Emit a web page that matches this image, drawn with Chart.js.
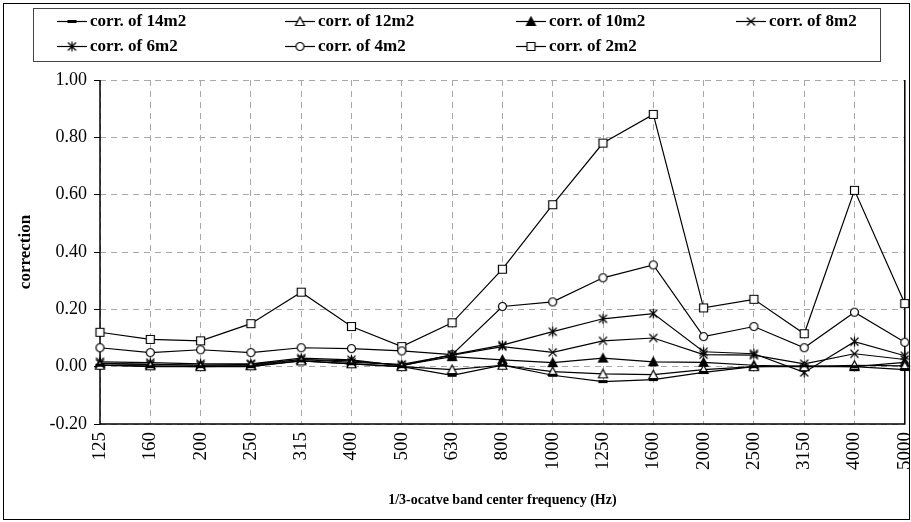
<!DOCTYPE html>
<html>
<head>
<meta charset="utf-8">
<script src="https://cdn.jsdelivr.net/npm/chart.js@4/dist/chart.umd.min.js"></script>
<style>
  html, body { margin: 0; padding: 0; background: #fff; }
  #wrap { width: 911px; height: 522px; }
</style>
</head>
<body>
<div id="wrap"><canvas id="grafico" width="911" height="522"></canvas></div>
<script>
const frequencias = ['125', '160', '200', '250', '315', '400', '500', '630', '800', '1000', '1250', '1600', '2000', '2500', '3150', '4000', '5000'];

const corr14 = [0.005, 0.0, 0.0, 0.0, 0.02, 0.01, 0.0, -0.03, 0.005, -0.03, -0.052, -0.045, -0.02, 0.0, 0.003, 0.0, -0.01];
const corr12 = [0.005, 0.003, 0.0, 0.003, 0.02, 0.01, 0.0, -0.01, 0.005, -0.017, -0.025, -0.028, -0.01, 0.0, 0.0, 0.005, 0.003];
const corr10 = [0.01, 0.008, 0.005, 0.005, 0.025, 0.02, 0.005, 0.035, 0.024, 0.014, 0.03, 0.017, 0.015, 0.005, 0.0, 0.0, 0.015];
const corr8 = [0.012, 0.008, 0.005, 0.008, 0.025, 0.015, 0.008, 0.04, 0.07, 0.05, 0.09, 0.1, 0.042, 0.04, 0.01, 0.045, 0.025];
const corr6 = [0.017, 0.014, 0.01, 0.01, 0.03, 0.024, 0.003, 0.042, 0.075, 0.122, 0.167, 0.185, 0.052, 0.045, -0.02, 0.087, 0.038];
const corr4 = [0.066, 0.049, 0.059, 0.049, 0.066, 0.063, 0.055, 0.042, 0.21, 0.226, 0.31, 0.355, 0.105, 0.14, 0.066, 0.19, 0.085];
const corr2 = [0.12, 0.095, 0.09, 0.15, 0.26, 0.14, 0.07, 0.153, 0.34, 0.565, 0.78, 0.88, 0.205, 0.235, 0.115, 0.615, 0.22];

const nomes = ['corr. of 14m2', 'corr. of 12m2', 'corr. of 10m2', 'corr. of 8m2', 'corr. of 6m2', 'corr. of 4m2', 'corr. of 2m2'];
const valores = [corr14, corr12, corr10, corr8, corr6, corr4, corr2];
const marcas = ['dash', 'triOpen', 'triFill', 'x', 'ast', 'circle', 'square'];

const fonte = "'Liberation Serif', 'Times New Roman', serif";

// desenha os marcadores num canvas pequeno, usado como pointStyle
function criarMarca(tipo) {
    const s = 13;
    const c = document.createElement('canvas');
    c.width = s;
    c.height = s;
    const ctx = c.getContext('2d');
    ctx.translate(s / 2, s / 2);
    ctx.strokeStyle = '#000';
    ctx.fillStyle = '#fff';
    ctx.lineWidth = 1.2;
    ctx.beginPath();
    if (tipo === 'dash') {
        ctx.fillStyle = '#000';
        ctx.fillRect(-4.5, -1.5, 9, 3);
    } else if (tipo === 'triOpen' || tipo === 'triFill') {
        ctx.moveTo(0, -4.5);
        ctx.lineTo(4.5, 4);
        ctx.lineTo(-4.5, 4);
        ctx.closePath();
        ctx.fillStyle = tipo === 'triFill' ? '#000' : '#fff';
        ctx.fill();
        ctx.stroke();
    } else if (tipo === 'x' || tipo === 'ast') {
        ctx.moveTo(-4, -4); ctx.lineTo(4, 4);
        ctx.moveTo(4, -4); ctx.lineTo(-4, 4);
        if (tipo === 'ast') { ctx.moveTo(0, -5); ctx.lineTo(0, 5); }
        ctx.stroke();
    } else if (tipo === 'circle') {
        ctx.arc(0, 0, 4, 0, Math.PI * 2);
        ctx.fill();
        ctx.stroke();
    } else if (tipo === 'square') {
        ctx.rect(-4, -4, 8, 8);
        ctx.fill();
        ctx.stroke();
    }
    return c;
}

const imagens = marcas.map(criarMarca);

const datasets = valores.map((v, i) => ({
    label: nomes[i],
    data: v,
    borderColor: '#000',
    borderWidth: 1.2,
    pointStyle: imagens[i],
    pointRadius: 5,
    fill: false,
    tension: 0,
}));

// bordas solidas da area do grafico (as linhas de grade ficam tracejadas)
const bordasPlugin = {
    id: 'bordas',
    beforeDatasetsDraw(chart) {
        const ctx = chart.ctx;
        const a = chart.chartArea;
        ctx.save();
        ctx.strokeStyle = '#000';
        ctx.lineWidth = 1.5;
        ctx.beginPath();
        ctx.moveTo(a.left, a.top);
        ctx.lineTo(a.left, a.bottom);
        ctx.lineTo(a.right, a.bottom);
        ctx.lineTo(a.right, a.top);
        ctx.stroke();
        ctx.restore();
    },
};

// legenda com colunas alinhadas, como no original
const legendaPlugin = {
    id: 'legendaCaixa',
    afterDraw(chart) {
        const ctx = chart.ctx;
        ctx.save();
        // moldura externa
        ctx.strokeStyle = '#000';
        ctx.lineWidth = 1;
        ctx.strokeRect(3.5, 3.5, 906, 516);
        // caixa da legenda
        ctx.strokeStyle = '#444';
        ctx.strokeRect(33.5, 8.5, 847, 53);
        const colunas = [57, 285, 516, 736];
        const linhas = [21, 46];
        ctx.font = 'bold 17px ' + fonte;
        ctx.textBaseline = 'middle';
        ctx.fillStyle = '#000';
        nomes.forEach((n, i) => {
            const x = colunas[i % 4];
            const y = linhas[Math.floor(i / 4)];
            ctx.strokeStyle = '#000';
            ctx.lineWidth = 1.2;
            ctx.beginPath();
            ctx.moveTo(x, y + 0.5);
            ctx.lineTo(x + 30, y + 0.5);
            ctx.stroke();
            const img = imagens[i];
            ctx.drawImage(img, x + 15 - img.width / 2, y + 0.5 - img.height / 2);
            ctx.fillText(n, x + 33, y + 1);
        });
        ctx.restore();
    },
};

new Chart(document.getElementById('grafico'), {
    type: 'line',
    data: { labels: frequencias, datasets },
    plugins: [bordasPlugin, legendaPlugin],
    options: {
        responsive: false,
        animation: false,
        events: [],
        layout: { padding: { left: 0, top: 80, right: 5, bottom: 0 } },
        plugins: { legend: { display: false }, tooltip: { enabled: false } },
        scales: {
            x: {
                offset: false,
                afterFit(axis) {
                    axis.height = 98;
                    axis.paddingLeft = 0;
                    axis.paddingRight = 0;
                },
                grid: {
                    color: '#a8a8a8',
                    drawTicks: false,
                },
                border: { display: false, dash: [6, 5] },
                ticks: {
                    autoSkip: false,
                    minRotation: 90,
                    maxRotation: 90,
                    padding: 8,
                    color: '#000',
                    font: { family: fonte, size: 19 },
                },
                title: {
                    display: true,
                    text: '1/3-ocatve band center frequency (Hz)',
                    color: '#000',
                    font: { family: fonte, size: 14, weight: 'bold' },
                    padding: { top: 0, bottom: 13 },
                },
            },
            y: {
                min: -0.2,
                max: 1.0,
                afterFit(axis) { axis.width = 100; },
                grid: {
                    color: '#a8a8a8',
                    tickColor: '#000',
                    tickBorderDash: [],
                    tickLength: 6,
                },
                border: { display: false, dash: [6, 5] },
                ticks: {
                    stepSize: 0.2,
                    padding: 7,
                    color: '#000',
                    font: { family: fonte, size: 18 },
                    callback: (v) => (Math.abs(v) < 1e-9 ? 0 : v).toFixed(2),
                },
                title: {
                    display: true,
                    text: 'correction',
                    color: '#000',
                    font: { family: fonte, size: 17, weight: 'bold' },
                    padding: { top: 15, bottom: 0 },
                },
            },
        },
    },
});
</script>
</body>
</html>
